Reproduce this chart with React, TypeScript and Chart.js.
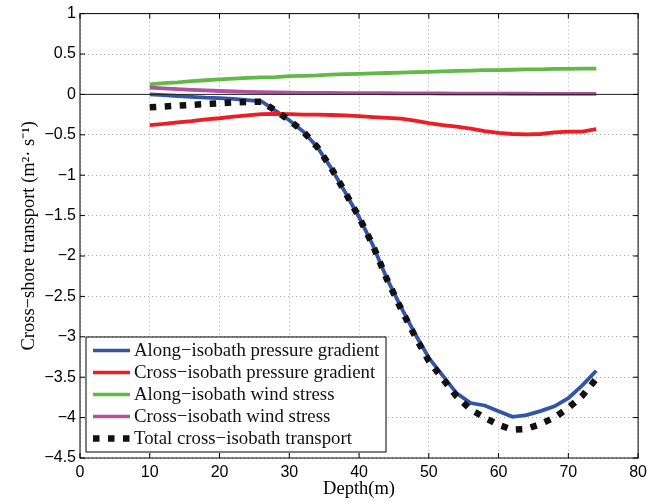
import React, { useEffect, useRef } from "react";
import { Chart, registerables } from "chart.js";

Chart.register(...registerables);

const DEPTH = [10, 12, 14, 16, 18, 20, 22, 24, 26, 28, 30, 32, 34, 36, 38, 40, 42, 44, 46, 48, 50, 52, 54, 56, 58, 60, 62, 64, 66, 68, 70, 72, 74];

const ALONG_PG = [0, -0.01, -0.02, -0.03, -0.04, -0.045, -0.055, -0.07, -0.085, -0.2, -0.32, -0.46, -0.65, -0.91, -1.21, -1.52, -1.87, -2.28, -2.63, -2.96, -3.26, -3.48, -3.7, -3.82, -3.85, -3.92, -3.99, -3.97, -3.92, -3.86, -3.76, -3.6, -3.42];

const CROSS_PG = [-0.38, -0.365, -0.345, -0.33, -0.31, -0.295, -0.275, -0.26, -0.245, -0.24, -0.245, -0.25, -0.25, -0.255, -0.26, -0.27, -0.28, -0.29, -0.3, -0.325, -0.355, -0.38, -0.4, -0.425, -0.455, -0.475, -0.49, -0.495, -0.49, -0.47, -0.46, -0.46, -0.43];

const ALONG_WS = [0.125, 0.14, 0.15, 0.165, 0.175, 0.185, 0.195, 0.205, 0.21, 0.215, 0.225, 0.23, 0.235, 0.245, 0.25, 0.255, 0.26, 0.265, 0.27, 0.275, 0.28, 0.285, 0.29, 0.295, 0.3, 0.3, 0.305, 0.31, 0.31, 0.315, 0.315, 0.32, 0.32];

const CROSS_WS = [0.085, 0.075, 0.066, 0.057, 0.049, 0.042, 0.036, 0.031, 0.027, 0.024, 0.022, 0.02, 0.019, 0.018, 0.017, 0.016, 0.015, 0.014, 0.013, 0.012, 0.012, 0.011, 0.01, 0.01, 0.009, 0.009, 0.008, 0.008, 0.007, 0.007, 0.006, 0.006, 0.006];

const TOTAL = [-0.16, -0.15, -0.14, -0.13, -0.12, -0.11, -0.1, -0.095, -0.09, -0.2, -0.32, -0.46, -0.65, -0.91, -1.21, -1.52, -1.87, -2.29, -2.65, -2.99, -3.3, -3.52, -3.74, -3.9, -4.0, -4.09, -4.15, -4.14, -4.08, -4.0, -3.88, -3.73, -3.52];

const SERIES_LABELS = [
  "Along\u2212isobath pressure gradient",
  "Cross\u2212isobath pressure gradient",
  "Along\u2212isobath wind stress",
  "Cross\u2212isobath wind stress",
  "Total cross\u2212isobath transport",
];
const SERIES_COLORS = ["#3355a5", "#ee1d25", "#62b946", "#b0519e", "#111111"];

const X_TITLE = "Depth(m)";
const Y_TITLE = "Cross\u2212shore transport (m\u00b2\u00b7 s\u207b\u00b9)";

const SANS = "'Liberation Sans', Arial, Helvetica, sans-serif";
const SERIF = "'Liberation Serif', 'Times New Roman', serif";

const BLACK_DASH = [6.5, 8.5];

function pts(ys: number[]) {
  return DEPTH.map((x, i) => ({ x, y: ys[i] }));
}

const framePlugin = {
  id: "frame",
  afterDatasetsDraw(chart: any) {
    const { ctx, chartArea: a, scales } = chart;
    const y0 = scales.y.getPixelForValue(0);
    ctx.save();
    ctx.strokeStyle = "#222";
    ctx.lineWidth = 1;
    ctx.beginPath();
    ctx.moveTo(a.left, y0);
    ctx.lineTo(a.right, y0);
    ctx.stroke();
    ctx.restore();
  },
  afterDraw(chart: any) {
    const { ctx, chartArea: a, scales } = chart;
    ctx.save();
    ctx.strokeStyle = "#000";
    ctx.lineWidth = 1;
    ctx.strokeRect(a.left, a.top, a.right - a.left, a.bottom - a.top);
    const tl = 5;
    ctx.beginPath();
    scales.x.ticks.forEach((t: any) => {
      const px = scales.x.getPixelForValue(t.value);
      ctx.moveTo(px, a.bottom);
      ctx.lineTo(px, a.bottom - tl);
      ctx.moveTo(px, a.top);
      ctx.lineTo(px, a.top + tl);
    });
    scales.y.ticks.forEach((t: any) => {
      const py = scales.y.getPixelForValue(t.value);
      ctx.moveTo(a.left, py);
      ctx.lineTo(a.left + tl, py);
      ctx.moveTo(a.right, py);
      ctx.lineTo(a.right - tl, py);
    });
    ctx.stroke();

    // legend
    const lx = a.left + 6;
    const lw = 300;
    const rowH = 22;
    const lh = 115;
    const ly = a.bottom - 6 - lh;
    ctx.fillStyle = "#fff";
    ctx.fillRect(lx, ly, lw, lh);
    ctx.strokeStyle = "#000";
    ctx.lineWidth = 1;
    ctx.strokeRect(lx, ly, lw, lh);
    ctx.font = `18.8px ${SERIF}`;
    ctx.textBaseline = "middle";
    ctx.textAlign = "left";
    SERIES_LABELS.forEach((lab, i) => {
      const cy = ly + 13.5 + i * rowH;
      ctx.beginPath();
      ctx.strokeStyle = SERIES_COLORS[i];
      if (i === 4) {
        ctx.lineWidth = 6.5;
        ctx.setLineDash(BLACK_DASH);
      } else {
        ctx.lineWidth = 3.5;
        ctx.setLineDash([]);
      }
      ctx.moveTo(lx + 7, cy);
      ctx.lineTo(lx + 44, cy);
      ctx.stroke();
      ctx.setLineDash([]);
      ctx.fillStyle = "#111";
      ctx.fillText(lab, lx + 48, cy + 0.5);
    });
    ctx.restore();
  },
};

export default function App() {
  const ref = useRef<HTMLCanvasElement>(null);
  useEffect(() => {
    document.body.style.margin = "0";
    const values = [ALONG_PG, CROSS_PG, ALONG_WS, CROSS_WS, TOTAL];
    const orders = [5, 4, 3, 2, 1];
    const chart = new Chart(ref.current as HTMLCanvasElement, {
      type: "line",
      data: {
        datasets: values.map((v, i) => ({
          label: SERIES_LABELS[i],
          data: pts(v),
          borderColor: SERIES_COLORS[i],
          backgroundColor: SERIES_COLORS[i],
          borderWidth: i === 4 ? 6.5 : 3.8,
          borderDash: i === 4 ? BLACK_DASH : [],
          borderCapStyle: "butt",
          pointRadius: 0,
          tension: 0,
          fill: false,
          order: orders[i],
        })) as any,
      },
      options: {
        responsive: false,
        animation: false,
        layout: { padding: { left: 0, top: 13, right: 9, bottom: 0 } },
        plugins: { legend: { display: false }, tooltip: { enabled: false } },
        scales: {
          x: {
            type: "linear",
            min: 0,
            max: 80,
            afterFit: (s: any) => {
              s.height = 44;
            },
            ticks: {
              stepSize: 10,
              color: "#000",
              padding: 5,
              font: { family: SANS, size: 16 },
              maxRotation: 0,
            },
            grid: { color: "#a8a8a8", lineWidth: 1, drawTicks: false },
            border: { display: false, dash: [1, 3] },
            title: {
              display: true,
              text: X_TITLE,
              color: "#000",
              font: { family: SERIF, size: 18.5 },
              padding: { top: 0, bottom: 1.6 },
            },
          },
          y: {
            type: "linear",
            min: -4.5,
            max: 1,
            afterFit: (s: any) => {
              s.width = 80;
            },
            ticks: {
              stepSize: 0.5,
              color: "#000",
              padding: 4,
              font: { family: SANS, size: 16 },
              callback: (v: any) => (Number(v) < 0 ? "\u2212" : "") + String(Math.abs(Number(v))),
            },
            grid: { color: "#a8a8a8", lineWidth: 1, drawTicks: false },
            border: { display: false, dash: [1, 3] },
            title: {
              display: true,
              text: Y_TITLE,
              color: "#000",
              font: { family: SERIF, size: 18.5 },
              padding: { top: 17.6, bottom: 0 },
            },
          },
        },
      },
      plugins: [framePlugin],
    });
    return () => chart.destroy();
  }, []);
  return (
    <div style={{ position: "fixed", left: 0, top: 0, width: 652, height: 502, background: "#fff" }}>
      <canvas ref={ref} width={652} height={502} style={{ width: 652, height: 502, display: "block" }} />
    </div>
  );
}
